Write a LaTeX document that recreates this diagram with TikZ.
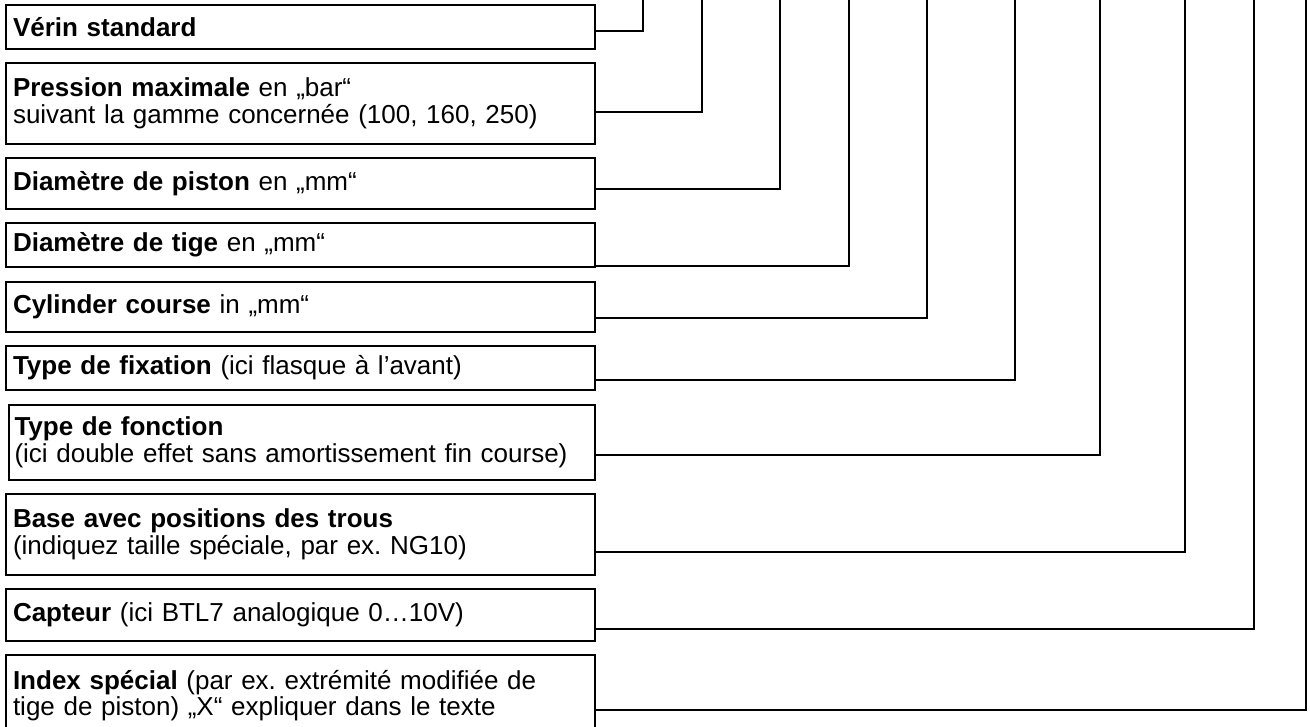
\documentclass[tikz,border=0pt]{standalone}
\usepackage{fontspec}
\setmainfont{Liberation Sans}
\usepackage{tikz}
\frenchspacing

\begin{document}
\begin{tikzpicture}[x=1pt, y=-1pt, line join = miter,
    feld/.style={draw, line width=2pt, anchor=north west, outer sep=0pt,
        minimum width=589pt, text width=575pt, inner xsep=7pt, inner ysep=0pt,
        align=left, font=\fontsize{26}{26.5}\selectfont},
    leitung/.style={line width=2pt}]
    \useasboundingbox (0,0) rectangle (1310,727);

    \node [feld, minimum height=44pt] (V1) at (6,5) {\textbf{Vérin standard}};
    \node [feld, minimum height=81.3pt] (V2) at (6,62.7) {\textbf{Pression maximale} en „bar“\\suivant la gamme concernée (100, 160, 250)};
    \node [feld, minimum height=51.3pt] (V3) at (6,157.7) {\textbf{Diamètre de piston} en „mm“};
    \node [feld, minimum height=44.3pt] (V4) at (6,222.7) {\textbf{Diamètre de tige} en „mm“};
    \node [feld, minimum height=50.3pt] (V5) at (6,281.7) {\textbf{Cylinder course} in „mm“};
    \node [feld, minimum height=44pt] (V6) at (6,345.7) {\textbf{Type de fixation} (ici flasque à l’avant)};
    \node [feld, minimum height=75.3pt, minimum width=586pt, inner xsep=5.5pt] (V7) at (9,404.7) {\textbf{Type de fonction}\\(ici double effet sans amortissement fin course)};
    \node [feld, minimum height=81pt] (V8) at (6,494) {\textbf{Base avec positions des trous}\\(indiquez taille spéciale, par ex. NG10)};
    \node [feld, minimum height=52pt] (V9) at (6,588.7) {\textbf{Capteur} (ici BTL7 analogique 0…10V)};
    \node [feld, minimum height=81pt] (V10) at (6,655) {\textbf{Index spécial} (par ex. extrémité modifiée de\\tige de piston) „X“ expliquer dans le texte};

    \coordinate (T1) at (642.6,-2);
    \coordinate (T2) at (702,-2);
    \coordinate (T3) at (780,-2);
    \coordinate (T4) at (849,-2);
    \coordinate (T5) at (927,-2);
    \coordinate (T6) at (1015,-2);
    \coordinate (T7) at (1100,-2);
    \coordinate (T8) at (1185,-2);
    \coordinate (T9) at (1254,-2);
    \coordinate (T10) at (1306,-2);

    \draw[leitung] (V1.east |- 0,30.7) -| (T1);
    \draw[leitung] (V2.east |- 0,111.7) -| (T2);
    \draw[leitung] (V3.east |- 0,189.3) -| (T3);
    \draw[leitung] (V4.east |- 0,265.7) -| (T4);
    \draw[leitung] (V5.east |- 0,318.3) -| (T5);
    \draw[leitung] (V6.east |- 0,380.3) -| (T6);
    \draw[leitung] (V7.east |- 0,455.3) -| (T7);
    \draw[leitung] (V8.east |- 0,552.3) -| (T8);
    \draw[leitung] (V9.east |- 0,629.3) -| (T9);
    \draw[leitung] (V10.east |- 0,710) -| (T10);
\end{tikzpicture}
\end{document}
